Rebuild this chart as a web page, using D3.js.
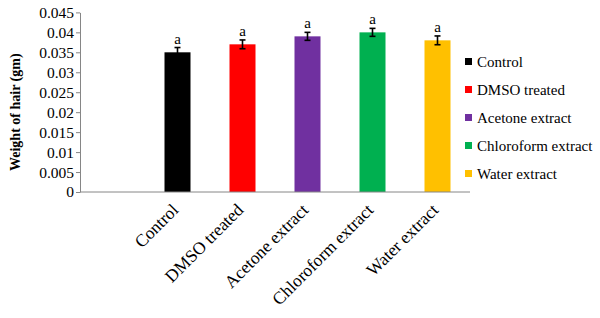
<!DOCTYPE html>
<html>
<head>
<meta charset="utf-8">
<script src="https://cdn.jsdelivr.net/npm/d3@7"></script>
<style>
  body { margin: 0; background: #fff; }
</style>
</head>
<body>
<div id="graf"></div>
<script>
// podaci
const kategorije = ["Control", "DMSO treated", "Acetone extract", "Chloroform extract", "Water extract"];
const vrijednosti = [0.035, 0.037, 0.039, 0.040, 0.038];
const greske = [0.0012, 0.0011, 0.001, 0.001, 0.0011];
const oznake = ["a", "a", "a", "a", "a"];
const boje = ["#000000", "#FF0000", "#7030A0", "#00B050", "#FFC000"];
const yTickovi = [0, 0.005, 0.01, 0.015, 0.02, 0.025, 0.03, 0.035, 0.04, 0.045];

const font = "'Liberation Serif', 'DejaVu Serif', serif";
const dim = { sirina: 600, visina: 318, lijevo: 80, desno: 470, vrh: 12.4, dno: 192 };

const svg = d3.select("#graf").append("svg")
  .attr("width", dim.sirina)
  .attr("height", dim.visina)
  .attr("font-family", font);

// prvi prazan slot kao u originalu
const x = d3.scaleBand()
  .domain(["", ...kategorije])
  .range([dim.lijevo, dim.desno])
  .paddingInner(0.6)
  .paddingOuter(0.3);

const y = d3.scaleLinear()
  .domain([0, 0.045])
  .range([dim.dno, dim.vrh]);

// y os
const yOs = svg.append("g")
  .attr("transform", `translate(${dim.lijevo},0)`)
  .call(d3.axisLeft(y).tickValues(yTickovi).tickSize(4).tickSizeOuter(0)
    .tickFormat(d => d === 0 ? "0" : String(+d.toFixed(3))));
yOs.attr("font-family", font).attr("font-size", 15.5);
yOs.select(".domain").attr("stroke", "#868686");
yOs.selectAll(".tick line").attr("stroke", "#868686");
yOs.selectAll(".tick text")
  .attr("x", -6)
  .attr("fill", "#000");

// stupci
svg.selectAll(".stupac")
  .data(kategorije)
  .enter().append("rect")
  .attr("class", "stupac")
  .attr("x", d => x(d))
  .attr("width", x.bandwidth())
  .attr("y", (d, i) => y(vrijednosti[i]))
  .attr("height", (d, i) => dim.dno - y(vrijednosti[i]))
  .attr("fill", (d, i) => boje[i]);

// x os
svg.append("line")
  .attr("x1", dim.lijevo).attr("x2", dim.desno)
  .attr("y1", dim.dno).attr("y2", dim.dno)
  .attr("stroke", "#868686");

// error barovi
const eb = svg.selectAll(".greska")
  .data(kategorije)
  .enter().append("g")
  .attr("class", "greska")
  .attr("stroke", "#000")
  .attr("stroke-width", 1.6);
const sredina = d => x(d) + x.bandwidth() / 2;
eb.append("line")
  .attr("x1", sredina).attr("x2", sredina)
  .attr("y1", (d, i) => y(vrijednosti[i] + greske[i]))
  .attr("y2", (d, i) => y(vrijednosti[i] - greske[i]));
eb.append("line")
  .attr("x1", d => sredina(d) - 3).attr("x2", d => sredina(d) + 3)
  .attr("y1", (d, i) => y(vrijednosti[i] + greske[i]))
  .attr("y2", (d, i) => y(vrijednosti[i] + greske[i]));
eb.append("line")
  .attr("x1", d => sredina(d) - 3).attr("x2", d => sredina(d) + 3)
  .attr("y1", (d, i) => y(vrijednosti[i] - greske[i]))
  .attr("y2", (d, i) => y(vrijednosti[i] - greske[i]));

// slova znacajnosti
svg.selectAll(".oznaka")
  .data(kategorije)
  .enter().append("text")
  .attr("class", "oznaka")
  .attr("x", sredina)
  .attr("y", (d, i) => y(vrijednosti[i] + greske[i]) - 4)
  .attr("text-anchor", "middle")
  .attr("font-size", 15)
  .text((d, i) => oznake[i]);

// x oznake rotirane
svg.selectAll(".xoznaka")
  .data(kategorije)
  .enter().append("text")
  .attr("class", "xoznaka")
  .attr("text-anchor", "end")
  .attr("transform", d => `translate(${sredina(d) + 2},${dim.dno + 19}) rotate(-45)`)
  .attr("font-size", 17.5)
  .text(d => d);

// naslov y osi
svg.append("text")
  .attr("transform", `translate(20,${(dim.vrh + dim.dno) / 2 + 10}) rotate(-90)`)
  .attr("text-anchor", "middle")
  .attr("font-size", 14)
  .attr("font-weight", "bold")
  .text("Weight of hair (gm)");

// legenda
const legenda = svg.append("g")
  .attr("transform", "translate(465,62)");
const red = legenda.selectAll(".red")
  .data(kategorije)
  .enter().append("g")
  .attr("class", "red")
  .attr("transform", (d, i) => `translate(0,${i * 28})`);
red.append("rect")
  .attr("x", 0).attr("y", -4)
  .attr("width", 7).attr("height", 7)
  .attr("fill", (d, i) => boje[i]);
red.append("text")
  .attr("x", 12)
  .attr("y", 0)
  .attr("dy", "0.35em")
  .attr("font-size", 15)
  .text(d => d);
</script>
</body>
</html>
